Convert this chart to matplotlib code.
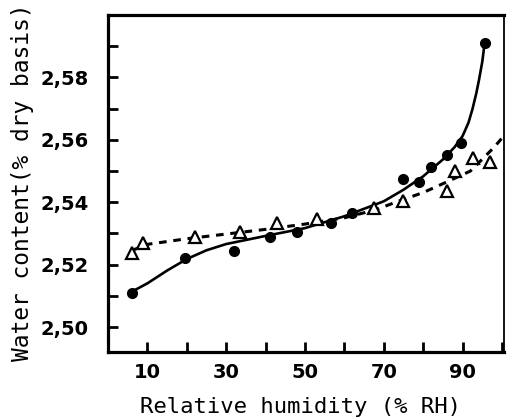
import matplotlib
matplotlib.use("Agg")
import matplotlib.pyplot as plt
from matplotlib.ticker import FixedLocator, FuncFormatter

# measured points (filled circles) and fitted solid curve
rh_dots = [6, 19.5, 32, 41, 48, 56.5, 62, 75, 79, 82, 86, 89.5, 95.6]
wc_dots = [2.511, 2.522, 2.5244, 2.529, 2.5305, 2.5334, 2.5367, 2.5473, 2.5466, 2.5514, 2.555, 2.559, 2.591]
rh_solid = [6, 10, 15, 20, 25, 30, 40, 50, 60, 70, 75, 80, 85, 88, 90, 91.5, 92.5, 93.5, 94.2, 95.0, 95.6]
wc_solid = [2.5113, 2.5140, 2.5181, 2.5218, 2.5246, 2.5266, 2.5292, 2.5317, 2.5355, 2.5403, 2.5440,
            2.5483, 2.5537, 2.5577, 2.5612, 2.5655, 2.5698, 2.5750, 2.5794, 2.5850, 2.5910]

# measured points (open triangles) and fitted dashed curve
rh_tri = [6, 9, 22, 33.5, 43, 53, 67.5, 75, 86, 88, 92.7, 97]
wc_tri = [2.5238, 2.527, 2.529, 2.5305, 2.5334, 2.5347, 2.5383, 2.5405, 2.5437, 2.550, 2.5543, 2.553]
rh_dash = [6, 10, 20, 30, 40, 50, 60, 68, 73, 80, 86, 92, 98, 100.3]
wc_dash = [2.5245, 2.5265, 2.5283, 2.5298, 2.5313, 2.5330, 2.5350, 2.5376, 2.5400, 2.5431,
           2.5465, 2.5500, 2.5576, 2.5610]

xticks = [10, 20, 30, 40, 50, 60, 70, 80, 90, 100]
xlabels_at = [10, 30, 50, 70, 90]
yticks = [2.50, 2.51, 2.52, 2.53, 2.54, 2.55, 2.56, 2.57, 2.58, 2.59]
ylabels_at = [2.50, 2.52, 2.54, 2.56, 2.58]

fig = plt.figure(figsize=(5.08, 4.19), dpi=100)
ax = fig.add_axes([0.2126, 0.1599, 0.992 - 0.2126, 0.9642 - 0.1599])

ax.plot(rh_solid, wc_solid, color="black", lw=1.9, solid_capstyle="round", solid_joinstyle="round")
ax.plot(rh_dash, wc_dash, color="black", lw=2.2, linestyle=(0, (2.5, 2.2)))
ax.plot(rh_dots, wc_dots, "o", color="black", ms=7, zorder=3)
ax.plot(rh_tri, wc_tri, "^", mfc="white", mec="black", mew=1.6, ms=8, zorder=3)

ax.set_xlim(0, 100.5)
ax.set_ylim(2.492, 2.600)

ax.xaxis.set_major_locator(FixedLocator(xticks))
ax.yaxis.set_major_locator(FixedLocator(yticks))
ax.xaxis.set_major_formatter(FuncFormatter(
    lambda v, p: "%d" % round(v) if round(v) in xlabels_at else ""))
ax.yaxis.set_major_formatter(FuncFormatter(
    lambda v, p: ("%.2f" % v).replace(".", ",") if any(abs(v - t) < 1e-6 for t in ylabels_at) else ""))

ax.tick_params(direction="in", length=7, width=2, pad=8)
ax.tick_params(axis="y", pad=14)
for lab in ax.get_xticklabels() + ax.get_yticklabels():
    lab.set_fontweight("bold")
    lab.set_fontsize(14)

for side in ["left", "bottom", "top"]:
    ax.spines[side].set_linewidth(2.3)
ax.spines["right"].set_linewidth(1.3)

ax.set_xlabel("Relative humidity (% RH)", family="DejaVu Sans Mono", fontsize=16, va="center")
ax.set_ylabel("Water content(% dry basis)", family="DejaVu Sans Mono", fontsize=16.5, va="center")
ax.xaxis.set_label_coords(0.487, -0.163)
ax.yaxis.set_label_coords(-0.217, 0.505)

fig.savefig("out.png", dpi=100)
